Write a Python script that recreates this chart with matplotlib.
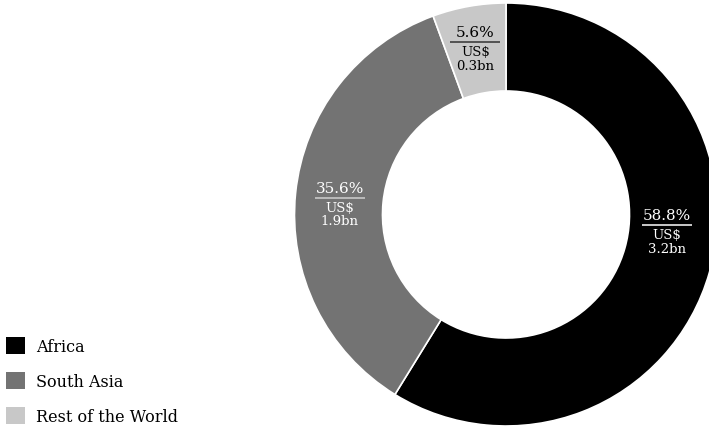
import matplotlib.pyplot as plt
import numpy as np
from matplotlib.patches import Patch

regions = ['Africa', 'South Asia', 'Rest of the World']
shares = [58.8, 35.6, 5.6]
amounts = ['3.2bn', '1.9bn', '0.3bn']
colors = ['#000000', '#737373', '#c8c8c8']
text_colors = ['white', 'white', 'black']
line_colors = ['white', '#cfcfcf', '#333333']
# label placement tweaks (degrees, radius) - Africa label sits higher than the arc middle
angle_nudge = [12.1, 0.0, 0.0]
label_r = [0.763, 0.79, 0.827]

plt.rcParams['font.family'] = 'DejaVu Serif'

fig = plt.figure(figsize=(7.09, 4.31), dpi=100)
# pie axes: centre at (506, 215.5) px, outer radius 211.5 px
W, H = 709, 431
R = 211.5
ax = fig.add_axes([(506 - R) / W, (H - 215.5 - R) / H, 2 * R / W, 2 * R / H])

wedges, _ = ax.pie(shares, colors=colors, startangle=90, counterclock=False,
                   radius=1, wedgeprops=dict(width=0.416, edgecolor='white', linewidth=1.2))
for w in wedges:
    w.set_clip_on(False)
ax.set_xlim(-1, 1)
ax.set_ylim(-1, 1)
ax.set_aspect('equal')
ax.axis('off')

px = 1 / R
start = 90
for i, (s, a) in enumerate(zip(shares, amounts)):
    mid = start - s * 3.6 / 2 + angle_nudge[i]
    start -= s * 3.6
    x = label_r[i] * np.cos(np.radians(mid))
    y = label_r[i] * np.sin(np.radians(mid))
    ax.text(x, y + 6 * px, f'{s}%', color=text_colors[i], fontsize=11,
            ha='center', va='baseline')
    ax.plot([x - 25 * px, x + 25 * px], [y, y], color=line_colors[i], lw=1.1,
            solid_capstyle='butt')
    ax.text(x, y - 3 * px, f'US$\n{a}', color=text_colors[i], fontsize=9.5,
            ha='center', va='top', linespacing=1.05)

handles = [Patch(facecolor=c, edgecolor='none') for c in colors]
fig.legend(handles=handles, labels=regions, loc='lower left',
           bbox_to_anchor=(6 / W, 5 / H), frameon=False, fontsize=11.5,
           handlelength=1.2, handleheight=1.2, handletextpad=0.7,
           labelspacing=1.1, borderpad=0, borderaxespad=0)

fig.savefig('out.png', dpi=100)
